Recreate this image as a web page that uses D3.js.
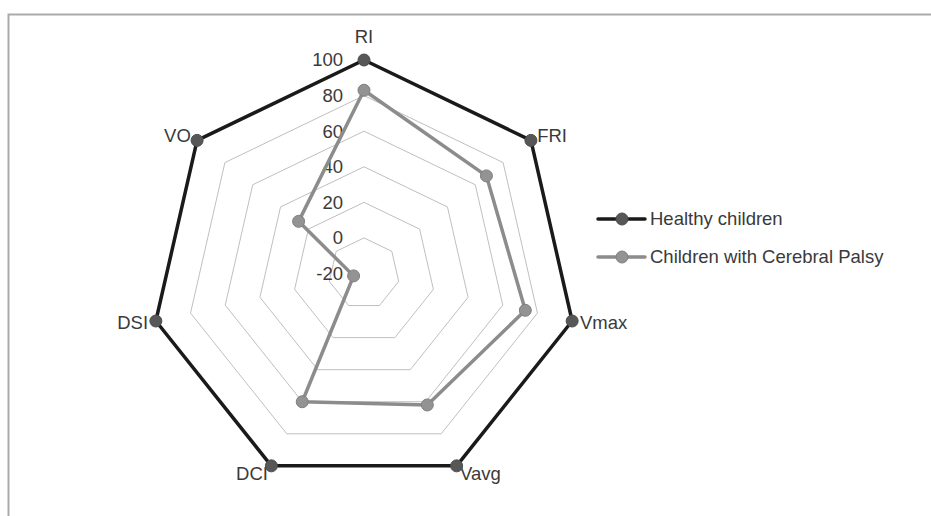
<!DOCTYPE html>
<html>
<head>
<meta charset="utf-8">
<script src="https://cdn.jsdelivr.net/npm/d3@7"></script>
<style>
  html, body { margin: 0; padding: 0; background: #fff; }
  svg text { font-family: "Liberation Sans", Arial, sans-serif; fill: #3a3a3a; }
</style>
</head>
<body>
<div id="radar-chart"></div>
<script>
const axesNames = ["RI", "FRI", "Vmax", "Vavg", "DCI", "DSI", "VO"];
const healthy = [100, 100, 100, 100, 100, 100, 100];
const palsy = [83, 68, 73, 62, 60, -14, 27];
const tickValues = [-20, 0, 20, 40, 60, 80, 100];
const seriesNames = ["Healthy children", "Children with Cerebral Palsy"];

(() => {
  const width = 931, height = 516;
  const cx = 364, cy = 273.5, radius = 213.5;
  const fontSize = 18.5;

  const svg = d3.select("#radar-chart")
    .append("svg")
    .attr("width", width)
    .attr("height", height);

  // chart area frame
  svg.append("rect")
    .attr("x", 8.5)
    .attr("y", 14.5)
    .attr("width", width + 20)
    .attr("height", height + 20)
    .attr("fill", "none")
    .attr("stroke", "#ababab")
    .attr("stroke-width", 2);

  const g = svg.append("g").attr("transform", `translate(${cx},${cy})`);

  const r = d3.scaleLinear().domain([-20, 100]).range([0, radius]);
  const angleSlice = Math.PI * 2 / axesNames.length;
  const angle = i => angleSlice * i;
  const pt = (v, i) => [r(v) * Math.sin(angle(i)), -r(v) * Math.cos(angle(i))];

  const line = d3.line().curve(d3.curveLinearClosed);

  // grid heptagons
  tickValues.slice(1, -1).forEach(v => {
    g.append("path")
      .attr("d", line(axesNames.map((a, i) => pt(v, i))))
      .attr("fill", "none")
      .attr("stroke", "#bfbfbf")
      .attr("stroke-width", 1);
  });

  // tick labels
  g.selectAll(".tick-label")
    .data(tickValues)
    .join("text")
    .attr("class", "tick-label")
    .attr("x", -21)
    .attr("y", d => -r(d))
    .attr("dy", "0.35em")
    .attr("text-anchor", "end")
    .attr("font-size", fontSize)
    .text(d => d);

  const series = [
    { name: seriesNames[0], values: healthy, color: "#1a1a1a", marker: "#575757", width: 3.5 },
    { name: seriesNames[1], values: palsy, color: "#8c8c8c", marker: "#939393", width: 3.5 }
  ];

  series.forEach(s => {
    const coords = s.values.map((v, i) => pt(v, i));
    g.append("path")
      .attr("d", line(coords))
      .attr("fill", "none")
      .attr("stroke", s.color)
      .attr("stroke-width", s.width)
      .attr("stroke-linejoin", "round");
  });

  // axis labels
  axesNames.forEach((a, i) => {
    const s = Math.sin(angle(i)), c = Math.cos(angle(i));
    const top = Math.abs(s) < 0.1;
    const pad = top ? 23 : 8;
    g.append("text")
      .attr("x", (radius + pad) * s)
      .attr("y", -(radius + pad) * c)
      .attr("dy", "0.35em")
      .attr("text-anchor", top ? "middle" : (s > 0 ? "start" : "end"))
      .attr("font-size", fontSize)
      .text(a);
  });

  // markers over labels, as in the original
  series.forEach(s => {
    g.selectAll(null)
      .data(s.values)
      .join("circle")
      .attr("cx", (v, i) => pt(v, i)[0])
      .attr("cy", (v, i) => pt(v, i)[1])
      .attr("r", 6)
      .attr("fill", s.marker)
      .attr("stroke", d3.color(s.marker).darker(0.4))
      .attr("stroke-width", 1);
  });

  // legend
  const legend = svg.append("g").attr("transform", "translate(598,219)");
  series.forEach((s, i) => {
    const row = legend.append("g").attr("transform", `translate(0,${i * 38})`);
    row.append("line")
      .attr("x1", 0).attr("x2", 47)
      .attr("stroke", s.color)
      .attr("stroke-width", s.width)
      .attr("stroke-linecap", "round");
    row.append("circle")
      .attr("cx", 24).attr("r", 6)
      .attr("fill", s.marker)
      .attr("stroke", d3.color(s.marker).darker(0.4));
    row.append("text")
      .attr("x", 52)
      .attr("dy", "0.35em")
      .attr("font-size", fontSize)
      .text(s.name);
  });
})();
</script>
</body>
</html>
